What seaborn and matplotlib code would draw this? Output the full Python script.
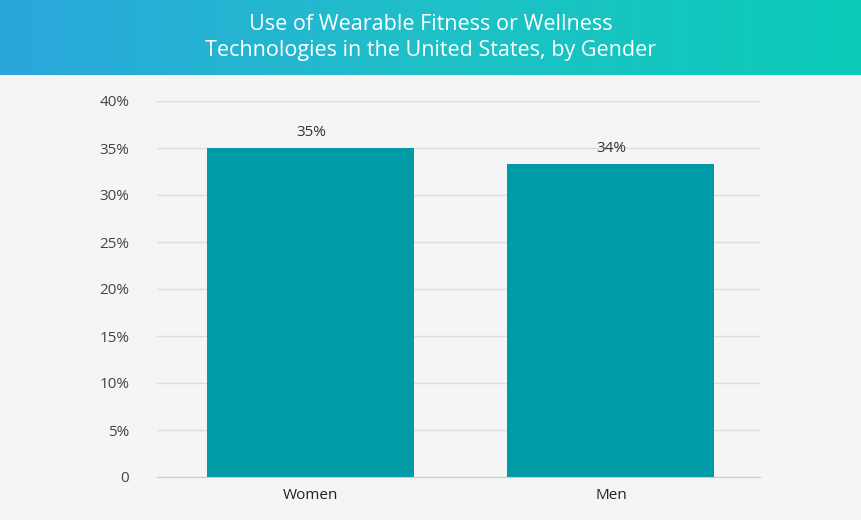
import numpy as np
import matplotlib
matplotlib.use("Agg")
import matplotlib.pyplot as plt
from matplotlib.colors import LinearSegmentedColormap
import seaborn as sns
import pandas as pd

categories = ["Women", "Men"]
values = [35.0, 33.3]
value_labels = ["35%", "34%"]
yticks = [0, 5, 10, 15, 20, 25, 30, 35, 40]
ytick_labels = ["0", "5%", "10%", "15%", "20%", "25%", "30%", "35%", "40%"]
title = "Use of Wearable Fitness or Wellness\nTechnologies in the United States, by Gender"

plt.rcParams["font.family"] = "Open Sans"
fig = plt.figure(figsize=(8.61, 5.2), dpi=100)
fig.patch.set_facecolor("#f5f5f5")

# header gradient
hax = fig.add_axes([0, 1 - 75/520, 1, 75/520])
cmap = LinearSegmentedColormap.from_list("g", ["#2aa6dd", "#1fc0c8", "#0bcbb8"])
hax.imshow(np.linspace(0, 1, 256)[None, :], aspect="auto", cmap=cmap, extent=[0, 1, 0, 1])
hax.set_axis_off()
hax.text(0.5, 0.5, title, ha="center", va="center", color="white", fontsize=15.5,
         linespacing=1.35, transform=hax.transAxes)

ax = fig.add_axes([157/861, 43/520, 603/861, 376/520])
ax.set_facecolor("#f5f5f5")
df = pd.DataFrame({"cat": categories, "val": values})
sns.barplot(data=df, x="cat", y="val", color="#009ba6", width=0.69, saturation=1, ax=ax)
for i, (v, lab) in enumerate(zip(values, value_labels)):
    ax.text(i, v + 0.8, lab, ha="center", va="bottom", fontsize=11, color="#333333")
ax.set_xlim(-0.513, 1.497)
ax.set_ylim(0, 40)
ax.set_yticks(yticks)
ax.set_yticklabels(ytick_labels)
ax.grid(axis="y", color="#dddddd", linewidth=1)
ax.set_axisbelow(True)
for s in ["top", "right", "left"]:
    ax.spines[s].set_visible(False)
ax.spines["bottom"].set_color("#cccccc")
ax.tick_params(axis="y", length=0, pad=20, labelsize=11, labelcolor="#444444")
ax.tick_params(axis="x", length=0, pad=8, labelsize=11, labelcolor="#222222")
ax.set_xlabel("")
ax.set_ylabel("")
fig.savefig("out.png", dpi=100, facecolor=fig.get_facecolor())
